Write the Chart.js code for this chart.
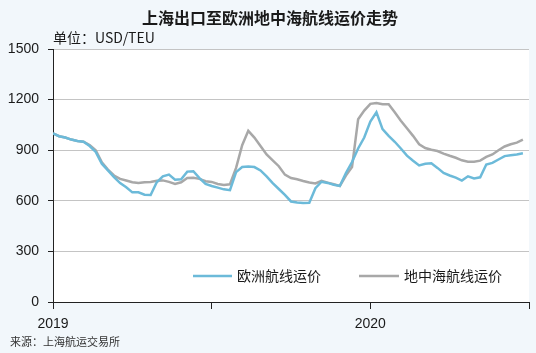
<!DOCTYPE html>
<html>
<head>
<meta charset="utf-8">
<script src="https://cdn.jsdelivr.net/npm/chart.js@4.4.0/dist/chart.umd.min.js"></script>
<style>
  html, body { margin: 0; padding: 0; background: #f2f7fb; }
  canvas { display: block; }
</style>
</head>
<body>
<canvas id="c" width="536" height="353"></canvas>
<script>
// Weekly index (week 0 = start of 2019)
const weeks = [];
for (let i = 0; i < 78; i++) weeks.push(i);

const europe = [1000, 983, 975, 963, 955, 950, 925, 890, 820, 780,
  740, 705, 680, 650, 650, 636, 634, 710, 745, 755,
  725, 728, 773, 775, 735, 700, 688, 678, 668, 663,
  770, 800, 803, 800, 780, 745, 705, 670, 635, 596,
  590, 587, 588, 675, 713, 706, 695, 688, 765, 830,
  910, 975, 1070, 1125, 1025, 985, 950, 910, 868, 838,
  810, 820, 822, 795, 765, 750, 737, 720, 745, 733,
  739, 815, 825, 845, 865, 870, 875, 882];

const mediterranean = [1000, 983, 975, 963, 955, 950, 930, 900, 828, 785,
  750, 730, 720, 710, 705, 710, 712, 719, 721, 712,
  700, 710, 735, 737, 730, 716, 712, 700, 694, 698,
  795, 930, 1015, 975, 925, 875, 840, 805, 755, 735,
  728, 717, 708, 703, 718, 708, 698, 688, 750, 800,
  1083, 1135, 1175, 1180, 1172, 1172, 1125, 1075, 1030, 985,
  935, 913, 903, 895, 880, 867, 855, 840, 832, 832,
  838, 860, 875, 900, 922, 935, 945, 962];

const xTickValues = [0, 26, 52, 78];
const xTickLabels = ['2019', '', '2020', ''];
const yTicks = [0, 300, 600, 900, 1200, 1500];

const titleText = '上海出口至欧洲地中海航线运价走势';
const unitText = '单位：USD/TEU';
const sourceText = '来源：上海航运交易所';
const seriesNames = ['欧洲航线运价', '地中海航线运价'];
const seriesColors = ['#6cbad9', '#a8a8a8'];

const CJK = '"Noto Sans CJK SC", "Liberation Sans", sans-serif';
const LAT = '"Liberation Sans", Arial, sans-serif';

const decor = {
  id: 'decor',
  beforeDraw(chart) {
    const { ctx, chartArea: a } = chart;
    ctx.save();
    ctx.fillStyle = '#ffffff';
    ctx.fillRect(a.left, a.top, a.right - a.left, a.bottom - a.top);
    ctx.restore();
  },
  afterDraw(chart) {
    const { ctx } = chart;
    ctx.save();
    ctx.fillStyle = '#1a1a1a';
    ctx.textBaseline = 'middle';
    ctx.textAlign = 'center';
    ctx.font = 'bold 16px ' + CJK;
    ctx.fillText(titleText, 270, 18);
    ctx.textAlign = 'left';
    ctx.font = '14px ' + CJK;
    ctx.fillText(unitText, 53, 38);
    ctx.font = '11px ' + CJK;
    ctx.fillStyle = '#333';
    ctx.fillText(sourceText, 10, 342);
    // legend
    const items = [
      { x0: 193, x1: 232, tx: 237 },
      { x0: 359, x1: 399, tx: 404 }
    ];
    const ly = 276;
    items.forEach((it, i) => {
      const ds = chart.data.datasets[i];
      ctx.strokeStyle = ds.borderColor;
      ctx.lineWidth = 2.5;
      ctx.beginPath();
      ctx.moveTo(it.x0, ly);
      ctx.lineTo(it.x1, ly);
      ctx.stroke();
      ctx.fillStyle = '#1a1a1a';
      ctx.font = '14px ' + CJK;
      ctx.fillText(ds.label, it.tx, ly);
    });
    ctx.restore();
  }
};

new Chart(document.getElementById('c'), {
  type: 'line',
  data: {
    datasets: [
      {
        label: seriesNames[0],
        data: weeks.map((w, i) => ({ x: w, y: europe[i] })),
        borderColor: seriesColors[0],
        borderWidth: 2.5,
        pointRadius: 0,
        tension: 0,
        fill: false
      },
      {
        label: seriesNames[1],
        data: weeks.map((w, i) => ({ x: w, y: mediterranean[i] })),
        borderColor: seriesColors[1],
        borderWidth: 2.5,
        pointRadius: 0,
        tension: 0,
        fill: false
      }
    ]
  },
  options: {
    responsive: false,
    animation: false,
    layout: { padding: { top: 49, right: 6, bottom: 0, left: 0 } },
    plugins: {
      legend: { display: false },
      title: { display: false },
      tooltip: { enabled: false }
    },
    scales: {
      x: {
        type: 'linear',
        min: 0,
        max: 78,
        afterFit(s) { s.height = 51; },
        afterBuildTicks(s) { s.ticks = xTickValues.map(v => ({ value: v })); },
        ticks: {
          autoSkip: false,
          maxRotation: 0,
          padding: 7,
          color: '#1a1a1a',
          font: { family: LAT, size: 14 },
          callback(v) { const k = xTickValues.indexOf(v); return k >= 0 ? xTickLabels[k] : ''; }
        },
        grid: {
          drawOnChartArea: false,
          drawTicks: true,
          tickLength: 7,
          tickColor: '#222',
          tickWidth: 1
        },
        border: { display: true, color: '#222', width: 1 }
      },
      y: {
        min: 0,
        max: 1500,
        afterFit(s) { s.width = 53; },
        afterBuildTicks(s) { s.ticks = yTicks.map(v => ({ value: v })); },
        ticks: {
          padding: 9,
          color: '#1a1a1a',
          font: { family: LAT, size: 14 },
          callback(v) { return String(v); }
        },
        grid: {
          color: '#c4c4c4',
          lineWidth: 1,
          tickLength: 5,
          tickColor: '#222'
        },
        border: { display: true, color: '#222', width: 1 }
      }
    }
  },
  plugins: [decor]
});
</script>
</body>
</html>
